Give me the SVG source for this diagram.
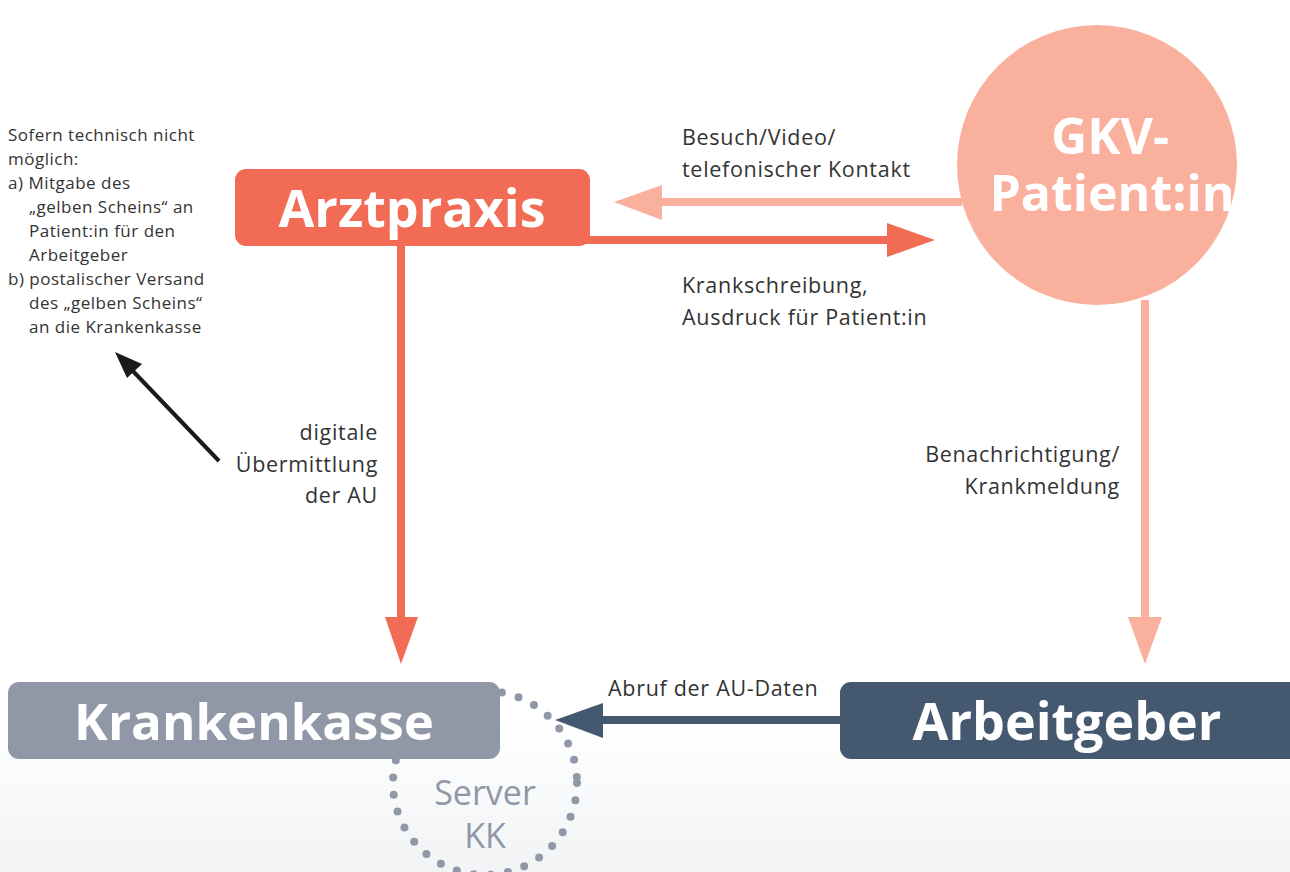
<svg xmlns="http://www.w3.org/2000/svg" width="1290" height="872" viewBox="0 0 1290 872">
<defs>
<linearGradient id="bg" x1="0" y1="0" x2="0" y2="1">
<stop offset="0" stop-color="#ffffff"/>
<stop offset="1" stop-color="#f1f3f5"/>
</linearGradient>
<style>
.lbl{font-family:"Open Sans","Liberation Sans",sans-serif;font-size:21.5px;letter-spacing:0.7px;fill:#333333}
.note{font-family:"Open Sans","Liberation Sans",sans-serif;font-size:17px;letter-spacing:0.5px;fill:#333333}
.big{font-family:"Open Sans","Liberation Sans",sans-serif;font-weight:bold;fill:#ffffff;text-anchor:middle}
.srv{font-family:"Open Sans","Liberation Sans",sans-serif;font-size:34px;fill:#9098a8;text-anchor:middle}
</style>
</defs>
<rect x="0" y="0" width="1290" height="872" fill="#ffffff"/>
<rect x="0" y="720" width="1290" height="152" fill="url(#bg)"/>

<g id="server-kk">
<circle cx="485" cy="783" r="92" fill="none" stroke="#9098a8" stroke-width="8" stroke-linecap="round" stroke-dasharray="0 17.3"/>
<text class="srv" x="485" y="805">Server</text>
<text class="srv" x="485" y="848">KK</text>
</g>

<g id="connectors">
<line x1="962" y1="202" x2="660" y2="202" stroke="#f9b09c" stroke-width="8"/>
<polygon points="614,202 662,185 662,220" fill="#f9b09c"/>
<line x1="585" y1="240" x2="890" y2="240" stroke="#f26b55" stroke-width="8"/>
<polygon points="935,240 887,223 887,257" fill="#f26b55"/>
<line x1="401" y1="240" x2="401" y2="620" stroke="#f26b55" stroke-width="8"/>
<polygon points="401,664 385,617 418,617" fill="#f26b55"/>
<line x1="1145" y1="300" x2="1145" y2="620" stroke="#f9b09c" stroke-width="8"/>
<polygon points="1145,664 1128,617 1162,617" fill="#f9b09c"/>
<line x1="845" y1="720" x2="600" y2="720" stroke="#44596f" stroke-width="8"/>
<polygon points="555,720 603,703 603,738" fill="#44596f"/>
<line x1="219" y1="461" x2="130" y2="368" stroke="#1a1a1a" stroke-width="4"/>
<polygon points="115,352 142,364 127,378" fill="#1a1a1a"/>
</g>

<g id="arztpraxis">
<rect x="235" y="169" width="355" height="77" rx="11" fill="#f26b55"/>
<text class="big" x="412" y="227" font-size="52">Arztpraxis</text>
</g>

<g id="gkv-patient">
<circle cx="1097" cy="165" r="140" fill="#f9b09c"/>
<text class="big" x="1110" y="154" font-size="50">GKV-</text>
<text class="big" x="1112" y="211" font-size="50">Patient:in</text>
</g>

<g id="krankenkasse">
<rect x="8" y="682" width="492" height="77" rx="11" fill="#9098a8"/>
<text class="big" x="254" y="740" font-size="51">Krankenkasse</text>
</g>

<g id="arbeitgeber">
<rect x="840" y="682" width="460" height="77" rx="11" fill="#44596f"/>
<text class="big" x="1067" y="740" font-size="52">Arbeitgeber</text>
</g>

<g id="labels">
<text class="lbl" x="682" y="145">Besuch/Video/</text>
<text class="lbl" x="682" y="177">telefonischer Kontakt</text>
<text class="lbl" x="682" y="293">Krankschreibung,</text>
<text class="lbl" x="682" y="325">Ausdruck für Patient:in</text>
<text class="lbl" x="378" y="440" text-anchor="end">digitale</text>
<text class="lbl" x="378" y="472" text-anchor="end">Übermittlung</text>
<text class="lbl" x="378" y="503" text-anchor="end">der AU</text>
<text class="lbl" x="1120" y="462" text-anchor="end">Benachrichtigung/</text>
<text class="lbl" x="1120" y="494" text-anchor="end">Krankmeldung</text>
<text class="lbl" x="608" y="696">Abruf der AU-Daten</text>
</g>

<g id="note">
<text class="note" x="8" y="141">Sofern technisch nicht</text>
<text class="note" x="8" y="165">möglich:</text>
<text class="note" x="8" y="189">a) Mitgabe des</text>
<text class="note" x="29" y="213">„gelben Scheins“ an</text>
<text class="note" x="29" y="237">Patient:in für den</text>
<text class="note" x="29" y="261">Arbeitgeber</text>
<text class="note" x="8" y="285">b) postalischer Versand</text>
<text class="note" x="29" y="309">des „gelben Scheins“</text>
<text class="note" x="29" y="333">an die Krankenkasse</text>
</g>
</svg>
